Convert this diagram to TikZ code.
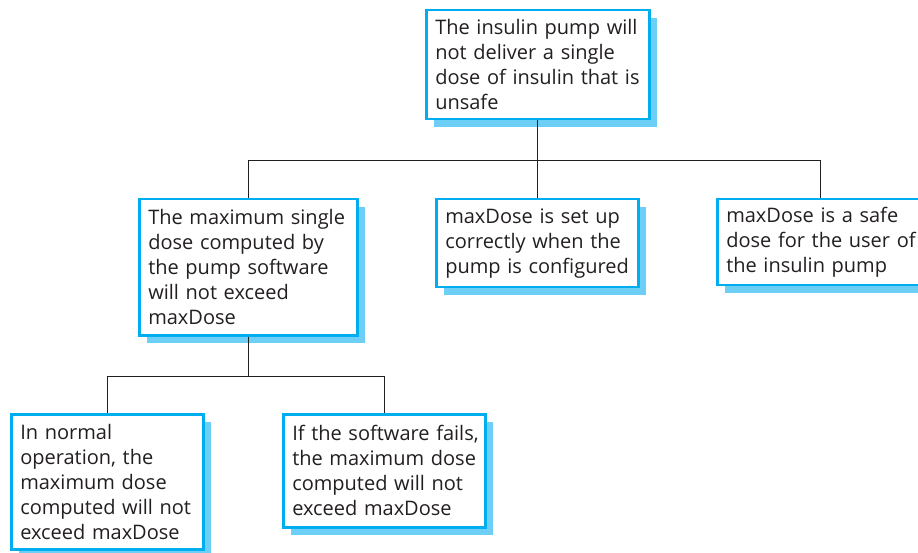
\documentclass[tikz,border=0pt]{standalone}
\usepackage{fontspec}
\setmainfont{Open Sans}
\usepackage{tikz}
\usepackage{xcolor}
\usetikzlibrary{positioning,shadows}
\definecolor{goalline}{HTML}{00AEEF}
\definecolor{goalshade}{HTML}{6DCFF6}
\definecolor{goaltext}{HTML}{231F20}
\tikzset{
  goal/.style={draw=goalline, line width=2.5pt, fill=white, anchor=north west,
    align=left, inner xsep=9pt, inner ysep=4pt, text=goaltext,
    font=\fontsize{20}{25}\selectfont,
    drop shadow={shadow xshift=8pt, shadow yshift=-8pt, fill=goalshade, opacity=1}},
  link/.style={draw=goaltext, line width=0.8pt}
}

\begin{document}
\begin{tikzpicture}[x=1pt,y=1pt]
  \useasboundingbox (0,0) rectangle (918,-553);

  \node[goal, text width=205pt, minimum height=109pt] (safe) at (425,-9)
    {The insulin pump will\\not deliver a single\\dose of insulin that is\\unsafe};

  \node[goal, text width=200pt, minimum height=136pt] (single) at (138,-198)
    {The maximum single\\dose computed by\\the pump software\\will not exceed\\maxDose};
  \node[goal, text width=184pt, minimum height=88pt] (setup) at (435,-198)
    {maxDose is set up\\correctly when the\\pump is configured};
  \node[goal, text width=188pt, minimum height=86pt] (user) at (716,-198)
    {maxDose is a safe\\\mbox{dose for the user of}\\the insulin pump};

  \node[goal, text width=174pt, minimum height=135pt] (normal) at (10,-413)
    {In normal\\operation, the\\maximum dose\\computed will not\\exceed maxDose};
  \node[goal, text width=184pt, minimum height=113pt] (fails) at (282,-413)
    {\mbox{If the software fails,}\\the maximum dose\\computed will not\\exceed maxDose};

\draw[link]  (safe.south) -- ++(0,-40) -| (single.north);
\draw[link]  (safe.south) -- ++(0,-40) -| (setup.north);
\draw[link]  (safe.south) -- ++(0,-40) -| (user.north);
\draw[link]  (single.south) -- ++(0,-40) -| (normal.north);
\draw[link]  (single.south) -- ++(0,-40) -| (fails.north);

\end{tikzpicture}
\end{document}
